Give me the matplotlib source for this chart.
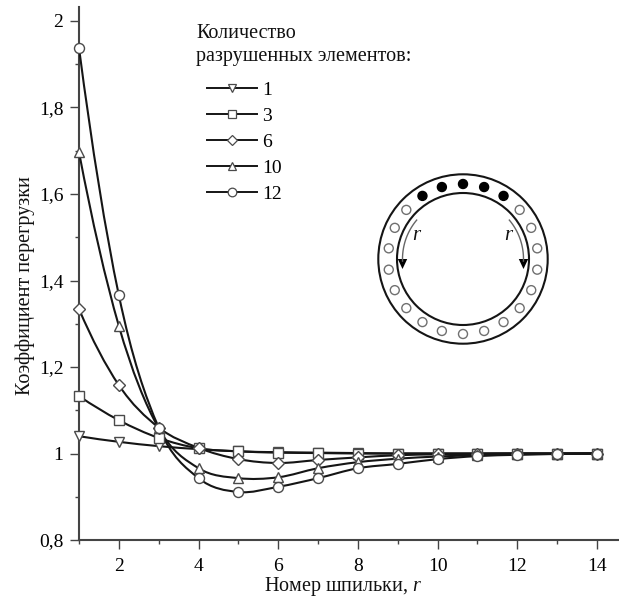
import numpy as np
import matplotlib
matplotlib.use('Agg')
import matplotlib.pyplot as plt
from matplotlib.path import Path
from matplotlib.patches import PathPatch, Circle, Polygon
from matplotlib.lines import Line2D

plt.rcParams['font.family'] = ['Liberation Serif', 'DejaVu Serif']
plt.rcParams['mathtext.fontset'] = 'custom'
plt.rcParams['mathtext.it'] = 'Liberation Serif:italic'
plt.rcParams['mathtext.rm'] = 'Liberation Serif'

r = np.arange(1, 15)
k_1 = [1.040, 1.027, 1.017, 1.010, 1.005, 1.003, 1.002, 1.001, 1.000, 1.000, 1.000, 1.000, 1.000, 1.000]
k_3 = [1.133, 1.077, 1.036, 1.012, 1.005, 1.002, 1.001, 1.000, 1.000, 1.000, 1.000, 1.000, 1.000, 1.000]
k_6 = [1.334, 1.158, 1.060, 1.013, 0.987, 0.978, 0.985, 0.991, 0.996, 0.998, 0.999, 1.000, 1.000, 1.000]
k_10 = [1.697, 1.295, 1.058, 0.966, 0.943, 0.945, 0.966, 0.980, 0.988, 0.993, 0.996, 0.998, 0.999, 1.000]
k_12 = [1.938, 1.366, 1.060, 0.943, 0.911, 0.923, 0.943, 0.966, 0.976, 0.987, 0.994, 0.997, 0.999, 1.000]

serii = [('1', k_1, 'v'), ('3', k_3, 's'), ('6', k_6, 'D'), ('10', k_10, '^'), ('12', k_12, 'o')]
x_ticks = [2, 4, 6, 8, 10, 12, 14]
y_ticks = [0.8, 1, 1.2, 1.4, 1.6, 1.8, 2]
y_labels = ['0,8', '1', '1,2', '1,4', '1,6', '1,8', '2']

W, H = 619, 598
LINE = '#151515'
EDGE = '#4a4a4a'


def smooth_path(x, y):                     # Hermite curve through the points, as bezier segments
    x = np.asarray(x, float)
    y = np.asarray(y, float)
    m = np.gradient(y, x)
    m[0] = 2 * (y[1] - y[0]) / (x[1] - x[0]) - m[1]        # ends follow the curvature, not the chord
    m[-1] = 2 * (y[-1] - y[-2]) / (x[-1] - x[-2]) - m[-2]
    verts = [(x[0], y[0])]
    codes = [Path.MOVETO]
    for i in range(len(x) - 1):
        h = (x[i + 1] - x[i]) / 3
        verts += [(x[i] + h, y[i] + h * m[i]), (x[i + 1] - h, y[i + 1] - h * m[i + 1]), (x[i + 1], y[i + 1])]
        codes += [Path.CURVE4] * 3
    return Path(verts, codes)


fig = plt.figure(figsize=(W / 100, H / 100), dpi=100)
ax = fig.add_axes([79 / W, (H - 540) / H, (W - 79) / W, (540 - 7) / H])
ax.set_xlim(1, 1 + (W - 79) / 39.85)
ax.set_ylim(0.8, 1 + (453.5 - 7) / 432.5)

for i, (navn, k, m) in enumerate(serii):
    ax.add_patch(PathPatch(smooth_path(r, k), fill=False, ec=LINE, lw=1.5, zorder=2 + i))
for i, (navn, k, m) in enumerate(serii):
    ax.plot(r, k, ls='none', marker=m, ms=5.8 if m == 'D' else 7.2, mfc='white', mec=EDGE, mew=1.0,
            clip_on=False, zorder=10 + i)

ax.spines['top'].set_visible(False)
ax.spines['right'].set_visible(False)
ax.spines['left'].set_linewidth(1.5)
ax.spines['bottom'].set_linewidth(1.5)
ax.spines['left'].set_color('#444444')
ax.spines['bottom'].set_color('#444444')

ax.set_xticks(x_ticks)
ax.set_xticks(np.arange(1, 15, 2), minor=True)
ax.set_yticks(y_ticks)
ax.set_yticklabels(y_labels)
ax.set_yticks(np.arange(0.9, 2, 0.2), minor=True)
ax.tick_params(which='major', length=6.2, width=1, color='#444444', labelsize=14, pad=5)
ax.tick_params(which='minor', length=2.6, width=1, color='#444444')
ax.tick_params(axis='x', which='major', pad=7)

fig.text(343 / W, 1 - 587 / H, 'Номер шпильки, $r$', fontsize=14.5, ha='center', va='center', color='#111111')
fig.text(25 / W, 1 - 286 / H, 'Коэффициент перегрузки', fontsize=14.5, rotation=90, ha='center', va='center', color='#111111')

fig.text(196 / W, 1 - 33 / H, 'Количество', fontsize=14.5, ha='left', va='center', color='#111111')
fig.text(196 / W, 1 - 57 / H, 'разрушенных элементов:', fontsize=14.5, ha='left', va='center', color='#111111')

handles = [Line2D([], [], color=LINE, lw=1.4, marker=m, ms=5 if m == 'D' else 6.2, mfc='white', mec=EDGE, mew=0.9)
           for navn, k, m in serii]
ax.legend(handles, [s[0] for s in serii], frameon=False, fontsize=14, loc='upper left',
          bbox_to_anchor=(207 / W, 1 - 81 / H), bbox_transform=fig.transFigure, borderpad=0, borderaxespad=0,
          handlelength=2.57, handletextpad=0.26, labelspacing=0.44)

# Sketch of the flange, in pixel units around its centre
skisse = fig.add_axes([(463 - 95) / W, (H - 259 - 95) / H, 190 / W, 190 / H])
skisse.set_xlim(-95, 95)
skisse.set_ylim(-95, 95)
skisse.axis('off')
skisse.add_patch(Circle((0, 0), 84.7, fill=False, ec=LINE, lw=1.5))
skisse.add_patch(Circle((0, 0), 66, fill=False, ec=LINE, lw=1.5))
vinkler = np.deg2rad(np.arange(22) * 360 / 22)
for i, v in enumerate(vinkler):
    sort = i in (0, 1, 2, 20, 21)
    skisse.add_patch(Circle((75 * np.sin(v), 75 * np.cos(v)), 4.5,
                            fc='black' if sort else 'white', ec='black' if sort else '#707070', lw=1.0))
for s in (-1, 1):
    a = np.deg2rad(np.linspace(50, 92, 30))
    skisse.plot(s * 60.5 * np.sin(a), 60.5 * np.cos(a), color='#666666', lw=1.0)
    skisse.add_patch(Polygon([[s * 60.5 - 4.7, 0], [s * 60.5 + 4.7, 0], [s * 60.5, -10]], fc='black', ec='none'))
    skisse.text(s * 46, 24, '$r$', fontsize=15, ha='center', va='center', color='#111111')

fig.savefig('out.png', dpi=100)
